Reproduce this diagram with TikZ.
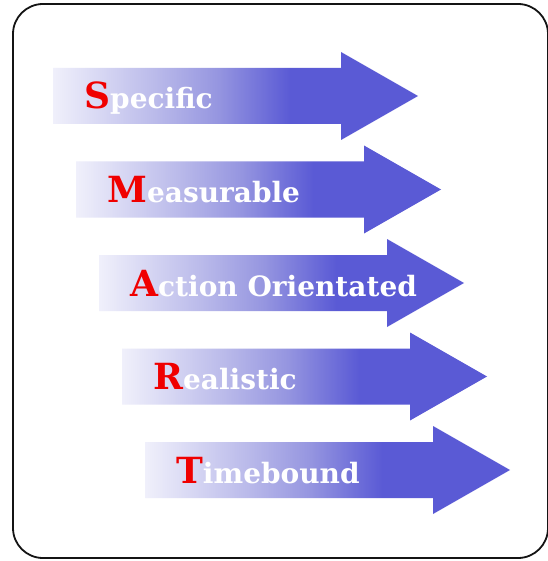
\documentclass[tikz,border=0pt]{standalone}
\usepackage{fontspec}
\newfontfamily\slabfont{DejaVu Serif}
\definecolor{arrowblue}{RGB}{90,90,213}
\definecolor{arrowpale}{RGB}{240,240,251}
\definecolor{arrowlight}{RGB}{186,186,234}
\definecolor{arrowmid}{RGB}{150,150,224}
\definecolor{framegray}{RGB}{20,20,20}
\definecolor{initialred}{RGB}{240,0,0}
% pale at the tail, deepening to solid blue about two thirds along
\pgfdeclarehorizontalshading{smartshade}{100bp}{color(0bp)=(arrowpale); color(25bp)=(arrowpale); color(39bp)=(arrowlight); color(47.5bp)=(arrowmid); color(57.5bp)=(arrowblue); color(100bp)=(arrowblue)}
\tikzset{
  framebox/.style={draw=framegray, line width=1.8pt, rounded corners=30pt, fill=white},
  arrowbody/.style={shading=smartshade},
  word/.style={text=white, font=\slabfont\bfseries\fontsize{28}{30}\selectfont, inner sep=0pt, anchor=base west}
}
\begin{document}
\begin{tikzpicture}[x=1pt, y=-1pt]
\useasboundingbox (0,0) rectangle (547,561);
\draw[framebox] (13,4) rectangle (548,558);
\foreach \i/\first/\rest in {0/S/pecific, 1/M/easurable, 2/A/ction Orientated, 3/R/ealistic, 4/T/imebound} {
  \pgfmathsetmacro\L{53+23*\i}
  \pgfmathsetmacro\C{96+93.5*\i}
  \shade[arrowbody] (\L,\C-28) -- (\L+288,\C-28) -- (\L+288,\C-44) -- (\L+365,\C)
     -- (\L+288,\C+44) -- (\L+288,\C+28) -- (\L,\C+28) -- cycle;
  \node[word] (word\i) at (\L+31,\C+13)
     {\textcolor{initialred}{\fontsize{36}{38}\selectfont\first}\rest};
}
\end{tikzpicture}
\end{document}
